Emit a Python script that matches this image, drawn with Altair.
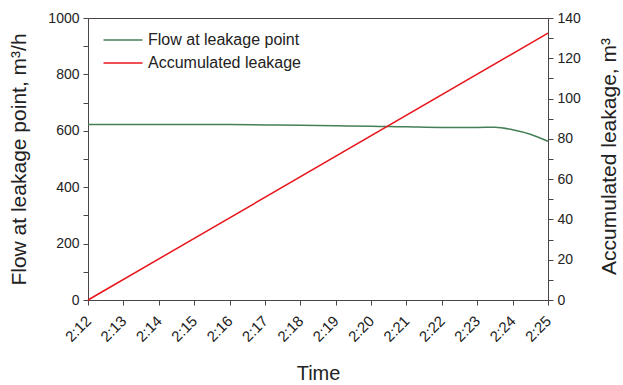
import altair as alt
import pandas as pd

# Data
minutes = [12, 13, 14, 15, 16, 17, 18, 19, 20, 20.5, 21, 22, 23, 23.5, 24, 24.5, 25]
flow = [622, 622, 622, 622, 622, 621, 620, 618, 616, 615, 614, 612, 612, 613, 604, 588, 563]
acc_minutes = [12, 25]
acc_leak = [0, 132.5]
x_ticks = list(range(12, 26))

flow_name = "Flow at leakage point"
acc_name = "Accumulated leakage"

df_flow = pd.DataFrame({"t": minutes, "v": flow, "series": flow_name})
df_acc = pd.DataFrame({"t": acc_minutes, "v": acc_leak, "series": acc_name})

FONT = "Liberation Sans"
AX = "#4a4444"

color = alt.Color(
    "series:N",
    scale=alt.Scale(domain=[flow_name, acc_name], range=["#447f55", "#e8151b"]),
    legend=alt.Legend(
        title=None, orient="none", legendX=27, legendY=14,
        symbolType="M-3,0L3,0", symbolSize=169, symbolStrokeWidth=1.5,
        labelFont=FONT, labelFontSize=16, labelColor="#222",
        rowPadding=7, labelOffset=17,
    ),
)

x = alt.X(
    "t:Q",
    scale=alt.Scale(domain=[12, 25], nice=False, zero=False),
    axis=alt.Axis(
        values=x_ticks, labelExpr="'2:' + datum.value", labelAngle=315,
        labelAlign="right", labelBaseline="middle", labelPadding=13,
        labelFontSize=15,
        title="Time", titleFontSize=20, titleX=230, titleY=73,
        titleBaseline="middle", titleAlign="center",
    ),
)

flow_line = alt.Chart(df_flow).mark_line(interpolate="monotone", strokeWidth=1.5).encode(
    x=x,
    y=alt.Y(
        "v:Q",
        scale=alt.Scale(domain=[0, 1000], nice=False),
        axis=alt.Axis(
            values=list(range(0, 1001, 100)), format="d",
            labelExpr="datum.value % 200 == 0 ? datum.label : ''",
            title="Flow at leakage point, m³/h", titleFontSize=21,
            titleX=-69, titleY=141, titleAngle=270,
            titleBaseline="middle", titleAlign="center",
        ),
    ),
    color=color,
)

acc_line = alt.Chart(df_acc).mark_line(strokeWidth=1.5).encode(
    x=x,
    y=alt.Y(
        "v:Q",
        scale=alt.Scale(domain=[0, 140], nice=False),
        axis=alt.Axis(
            orient="right",
            values=list(range(0, 141, 10)), format="d",
            labelExpr="datum.value % 20 == 0 ? datum.label : ''",
            title="Accumulated leakage, m³", titleFontSize=21,
            titleX=61, titleY=138, titleAngle=270,
            titleBaseline="middle", titleAlign="center",
        ),
    ),
    color=color,
)

chart = (
    alt.layer(flow_line, acc_line)
    .resolve_scale(y="independent")
    .properties(
        width=460, height=282,
        autosize=alt.AutoSizeParams(type="none"),
        padding={"left": 88, "top": 18, "right": 75, "bottom": 85},
        background="white",
    )
    .configure_view(stroke=AX, strokeWidth=1)
    .configure_axis(
        grid=False, domainColor=AX, tickColor=AX, tickSize=5,
        labelFont=FONT, labelFontSize=14, labelColor="#222",
        titleFont=FONT, titleFontWeight="normal", titleColor="#222",
        labelPadding=4,
    )
)

chart.save("out.html", embed_options={"renderer": "svg", "actions": False})
